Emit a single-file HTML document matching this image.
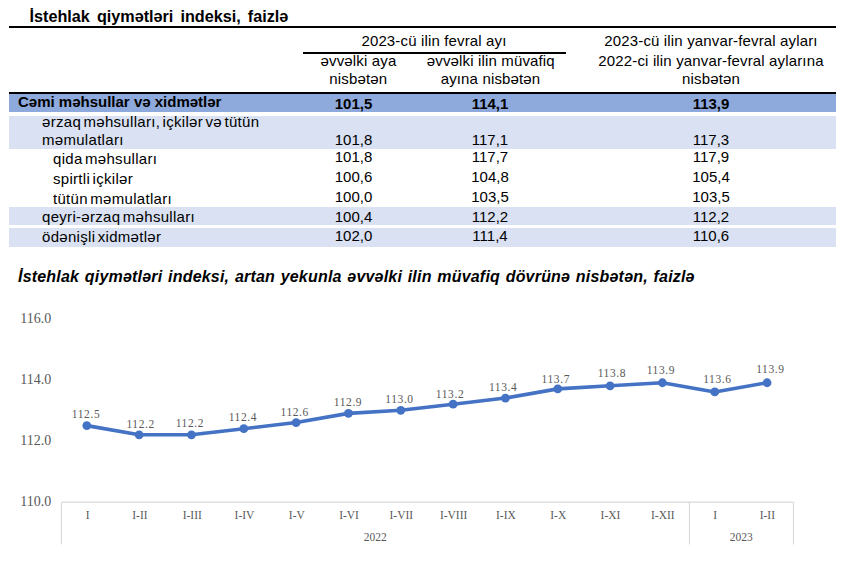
<!DOCTYPE html>
<html><head><meta charset="utf-8"><style>
html,body{margin:0;padding:0;background:#fff;width:846px;height:573px;overflow:hidden;position:relative}
</style></head><body>
<div style="position:absolute;left:29.5px;top:5.35px;height:22.68px;line-height:22.68px;font-family:'Liberation Sans', sans-serif;font-size:16.2px;font-weight:bold;font-style:normal;color:#000;white-space:pre;word-spacing:2.6px;">İstehlak qiymətləri indeksi, faizlə</div>
<div style="position:absolute;left:9px;top:26px;width:827px;height:2px;background:#000"></div>
<div style="position:absolute;left:134px;width:600px;text-align:center;top:29.80px;height:21.0px;line-height:21.0px;font-family:'Liberation Sans', sans-serif;font-size:15px;font-weight:normal;font-style:normal;color:#000;white-space:pre;letter-spacing:0.15px;">2023-cü ilin fevral ayı</div>
<div style="position:absolute;left:303px;top:52px;width:263px;height:2px;background:#000"></div>
<div style="position:absolute;left:411px;width:600px;text-align:center;top:29.80px;height:21.0px;line-height:21.0px;font-family:'Liberation Sans', sans-serif;font-size:15px;font-weight:normal;font-style:normal;color:#000;white-space:pre;letter-spacing:0.15px;">2023-cü ilin yanvar-fevral ayları</div>
<div style="position:absolute;left:58.5px;width:600px;text-align:center;top:50.30px;height:21.0px;line-height:21.0px;font-family:'Liberation Sans', sans-serif;font-size:15px;font-weight:normal;font-style:normal;color:#000;white-space:pre;letter-spacing:0.15px;">əvvəlki aya</div>
<div style="position:absolute;left:58.30000000000001px;width:600px;text-align:center;top:68.30px;height:21.0px;line-height:21.0px;font-family:'Liberation Sans', sans-serif;font-size:15px;font-weight:normal;font-style:normal;color:#000;white-space:pre;letter-spacing:0.15px;">nisbətən</div>
<div style="position:absolute;left:190.8px;width:600px;text-align:center;top:50.30px;height:21.0px;line-height:21.0px;font-family:'Liberation Sans', sans-serif;font-size:15px;font-weight:normal;font-style:normal;color:#000;white-space:pre;letter-spacing:0.15px;">əvvəlki ilin müvafiq</div>
<div style="position:absolute;left:190.5px;width:600px;text-align:center;top:68.30px;height:21.0px;line-height:21.0px;font-family:'Liberation Sans', sans-serif;font-size:15px;font-weight:normal;font-style:normal;color:#000;white-space:pre;letter-spacing:0.15px;">ayına nisbətən</div>
<div style="position:absolute;left:411px;width:600px;text-align:center;top:50.30px;height:21.0px;line-height:21.0px;font-family:'Liberation Sans', sans-serif;font-size:15px;font-weight:normal;font-style:normal;color:#000;white-space:pre;letter-spacing:0.15px;">2022-ci ilin yanvar-fevral aylarına</div>
<div style="position:absolute;left:411px;width:600px;text-align:center;top:68.30px;height:21.0px;line-height:21.0px;font-family:'Liberation Sans', sans-serif;font-size:15px;font-weight:normal;font-style:normal;color:#000;white-space:pre;letter-spacing:0.15px;">nisbətən</div>
<div style="position:absolute;left:9px;top:92px;width:827px;height:2px;background:#000"></div>
<div style="position:absolute;left:9px;top:94px;width:827px;height:18px;background:#8EA9DB"></div>
<div style="position:absolute;left:9px;top:116px;width:827px;height:33px;background:#D9E1F2"></div>
<div style="position:absolute;left:9px;top:207px;width:827px;height:18px;background:#D9E1F2"></div>
<div style="position:absolute;left:9px;top:228px;width:827px;height:19px;background:#D9E1F2"></div>
<div style="position:absolute;left:18px;top:91.30px;height:21.0px;line-height:21.0px;font-family:'Liberation Sans', sans-serif;font-size:15px;font-weight:bold;font-style:normal;color:#000;white-space:pre;">Cəmi məhsullar və xidmətlər</div>
<div style="position:absolute;left:53.5px;width:600px;text-align:center;top:93.30px;height:21.0px;line-height:21.0px;font-family:'Liberation Sans', sans-serif;font-size:15px;font-weight:bold;font-style:normal;color:#000;white-space:pre;">101,5</div>
<div style="position:absolute;left:190px;width:600px;text-align:center;top:93.30px;height:21.0px;line-height:21.0px;font-family:'Liberation Sans', sans-serif;font-size:15px;font-weight:bold;font-style:normal;color:#000;white-space:pre;">114,1</div>
<div style="position:absolute;left:411px;width:600px;text-align:center;top:93.30px;height:21.0px;line-height:21.0px;font-family:'Liberation Sans', sans-serif;font-size:15px;font-weight:bold;font-style:normal;color:#000;white-space:pre;">113,9</div>
<div style="position:absolute;left:42px;top:111.30px;height:21.0px;line-height:21.0px;font-family:'Liberation Sans', sans-serif;font-size:15px;font-weight:normal;font-style:normal;color:#000;white-space:pre;letter-spacing:0.3px;word-spacing:-2px;">ərzaq məhsulları, içkilər və tütün</div>
<div style="position:absolute;left:42px;top:129.30px;height:21.0px;line-height:21.0px;font-family:'Liberation Sans', sans-serif;font-size:15px;font-weight:normal;font-style:normal;color:#000;white-space:pre;letter-spacing:0.3px;word-spacing:-2px;">məmulatları</div>
<div style="position:absolute;left:53.5px;width:600px;text-align:center;top:129.30px;height:21.0px;line-height:21.0px;font-family:'Liberation Sans', sans-serif;font-size:15px;font-weight:normal;font-style:normal;color:#000;white-space:pre;">101,8</div>
<div style="position:absolute;left:190px;width:600px;text-align:center;top:129.30px;height:21.0px;line-height:21.0px;font-family:'Liberation Sans', sans-serif;font-size:15px;font-weight:normal;font-style:normal;color:#000;white-space:pre;">117,1</div>
<div style="position:absolute;left:411px;width:600px;text-align:center;top:129.30px;height:21.0px;line-height:21.0px;font-family:'Liberation Sans', sans-serif;font-size:15px;font-weight:normal;font-style:normal;color:#000;white-space:pre;">117,3</div>
<div style="position:absolute;left:53px;top:147.90px;height:21.0px;line-height:21.0px;font-family:'Liberation Sans', sans-serif;font-size:15px;font-weight:normal;font-style:normal;color:#000;white-space:pre;letter-spacing:0.3px;word-spacing:-2px;">qida məhsulları</div>
<div style="position:absolute;left:53.5px;width:600px;text-align:center;top:146.30px;height:21.0px;line-height:21.0px;font-family:'Liberation Sans', sans-serif;font-size:15px;font-weight:normal;font-style:normal;color:#000;white-space:pre;">101,8</div>
<div style="position:absolute;left:190px;width:600px;text-align:center;top:146.30px;height:21.0px;line-height:21.0px;font-family:'Liberation Sans', sans-serif;font-size:15px;font-weight:normal;font-style:normal;color:#000;white-space:pre;">117,7</div>
<div style="position:absolute;left:411px;width:600px;text-align:center;top:146.30px;height:21.0px;line-height:21.0px;font-family:'Liberation Sans', sans-serif;font-size:15px;font-weight:normal;font-style:normal;color:#000;white-space:pre;">117,9</div>
<div style="position:absolute;left:53px;top:167.90px;height:21.0px;line-height:21.0px;font-family:'Liberation Sans', sans-serif;font-size:15px;font-weight:normal;font-style:normal;color:#000;white-space:pre;letter-spacing:0.3px;word-spacing:-2px;">spirtli içkilər</div>
<div style="position:absolute;left:53.5px;width:600px;text-align:center;top:166.30px;height:21.0px;line-height:21.0px;font-family:'Liberation Sans', sans-serif;font-size:15px;font-weight:normal;font-style:normal;color:#000;white-space:pre;">100,6</div>
<div style="position:absolute;left:190px;width:600px;text-align:center;top:166.30px;height:21.0px;line-height:21.0px;font-family:'Liberation Sans', sans-serif;font-size:15px;font-weight:normal;font-style:normal;color:#000;white-space:pre;">104,8</div>
<div style="position:absolute;left:411px;width:600px;text-align:center;top:166.30px;height:21.0px;line-height:21.0px;font-family:'Liberation Sans', sans-serif;font-size:15px;font-weight:normal;font-style:normal;color:#000;white-space:pre;">105,4</div>
<div style="position:absolute;left:53px;top:187.90px;height:21.0px;line-height:21.0px;font-family:'Liberation Sans', sans-serif;font-size:15px;font-weight:normal;font-style:normal;color:#000;white-space:pre;letter-spacing:0.3px;word-spacing:-2px;">tütün məmulatları</div>
<div style="position:absolute;left:53.5px;width:600px;text-align:center;top:186.30px;height:21.0px;line-height:21.0px;font-family:'Liberation Sans', sans-serif;font-size:15px;font-weight:normal;font-style:normal;color:#000;white-space:pre;">100,0</div>
<div style="position:absolute;left:190px;width:600px;text-align:center;top:186.30px;height:21.0px;line-height:21.0px;font-family:'Liberation Sans', sans-serif;font-size:15px;font-weight:normal;font-style:normal;color:#000;white-space:pre;">103,5</div>
<div style="position:absolute;left:411px;width:600px;text-align:center;top:186.30px;height:21.0px;line-height:21.0px;font-family:'Liberation Sans', sans-serif;font-size:15px;font-weight:normal;font-style:normal;color:#000;white-space:pre;">103,5</div>
<div style="position:absolute;left:42px;top:206.30px;height:21.0px;line-height:21.0px;font-family:'Liberation Sans', sans-serif;font-size:15px;font-weight:normal;font-style:normal;color:#000;white-space:pre;letter-spacing:0.3px;word-spacing:-2px;">qeyri-ərzaq məhsulları</div>
<div style="position:absolute;left:53.5px;width:600px;text-align:center;top:205.80px;height:21.0px;line-height:21.0px;font-family:'Liberation Sans', sans-serif;font-size:15px;font-weight:normal;font-style:normal;color:#000;white-space:pre;">100,4</div>
<div style="position:absolute;left:190px;width:600px;text-align:center;top:205.80px;height:21.0px;line-height:21.0px;font-family:'Liberation Sans', sans-serif;font-size:15px;font-weight:normal;font-style:normal;color:#000;white-space:pre;">112,2</div>
<div style="position:absolute;left:411px;width:600px;text-align:center;top:205.80px;height:21.0px;line-height:21.0px;font-family:'Liberation Sans', sans-serif;font-size:15px;font-weight:normal;font-style:normal;color:#000;white-space:pre;">112,2</div>
<div style="position:absolute;left:42px;top:225.50px;height:21.0px;line-height:21.0px;font-family:'Liberation Sans', sans-serif;font-size:15px;font-weight:normal;font-style:normal;color:#000;white-space:pre;letter-spacing:0.3px;word-spacing:-2px;">ödənişli xidmətlər</div>
<div style="position:absolute;left:53.5px;width:600px;text-align:center;top:224.80px;height:21.0px;line-height:21.0px;font-family:'Liberation Sans', sans-serif;font-size:15px;font-weight:normal;font-style:normal;color:#000;white-space:pre;">102,0</div>
<div style="position:absolute;left:190px;width:600px;text-align:center;top:224.80px;height:21.0px;line-height:21.0px;font-family:'Liberation Sans', sans-serif;font-size:15px;font-weight:normal;font-style:normal;color:#000;white-space:pre;">111,4</div>
<div style="position:absolute;left:411px;width:600px;text-align:center;top:224.80px;height:21.0px;line-height:21.0px;font-family:'Liberation Sans', sans-serif;font-size:15px;font-weight:normal;font-style:normal;color:#000;white-space:pre;">110,6</div>
<div style="position:absolute;left:18px;top:266.26px;height:22.4px;line-height:22.4px;font-family:'Liberation Sans', sans-serif;font-size:16px;font-weight:bold;font-style:italic;color:#000;white-space:pre;letter-spacing:0.2px;word-spacing:1.0px;">İstehlak qiymətləri indeksi, artan yekunla əvvəlki ilin müvafiq dövrünə nisbətən, faizlə</div>
<div style="position:absolute;left:-548.8px;width:600px;text-align:right;top:308.69px;height:19.6px;line-height:19.6px;font-family:'Liberation Serif', serif;font-size:14px;font-weight:normal;font-style:normal;color:#595959;white-space:pre;">116.0</div>
<div style="position:absolute;left:-548.8px;width:600px;text-align:right;top:369.95px;height:19.6px;line-height:19.6px;font-family:'Liberation Serif', serif;font-size:14px;font-weight:normal;font-style:normal;color:#595959;white-space:pre;">114.0</div>
<div style="position:absolute;left:-548.8px;width:600px;text-align:right;top:431.21px;height:19.6px;line-height:19.6px;font-family:'Liberation Serif', serif;font-size:14px;font-weight:normal;font-style:normal;color:#595959;white-space:pre;">112.0</div>
<div style="position:absolute;left:-548.8px;width:600px;text-align:right;top:492.47px;height:19.6px;line-height:19.6px;font-family:'Liberation Serif', serif;font-size:14px;font-weight:normal;font-style:normal;color:#595959;white-space:pre;">110.0</div>
<svg style="position:absolute;left:0;top:0" width="846" height="573"><line x1="61.5" y1="502.2" x2="793.5" y2="502.2" stroke="#D9D9D9" stroke-width="1.2"/><line x1="61.5" y1="502.2" x2="61.5" y2="544.5" stroke="#D9D9D9" stroke-width="1.2"/><line x1="689.5" y1="502.2" x2="689.5" y2="544.5" stroke="#D9D9D9" stroke-width="1.2"/><line x1="793.5" y1="502.2" x2="793.5" y2="544.5" stroke="#D9D9D9" stroke-width="1.2"/><polyline fill="none" stroke="#4472C4" stroke-width="3.6" stroke-linejoin="round" points="86.80,425.62 139.13,434.81 191.46,434.81 243.79,428.69 296.12,422.56 348.45,413.37 400.78,410.31 453.11,404.18 505.44,398.06 557.77,388.87 610.10,385.81 662.43,382.74 714.76,391.93 767.09,382.74"/><circle cx="86.80" cy="425.62" r="4.4" fill="#4472C4"/><circle cx="139.13" cy="434.81" r="4.4" fill="#4472C4"/><circle cx="191.46" cy="434.81" r="4.4" fill="#4472C4"/><circle cx="243.79" cy="428.69" r="4.4" fill="#4472C4"/><circle cx="296.12" cy="422.56" r="4.4" fill="#4472C4"/><circle cx="348.45" cy="413.37" r="4.4" fill="#4472C4"/><circle cx="400.78" cy="410.31" r="4.4" fill="#4472C4"/><circle cx="453.11" cy="404.18" r="4.4" fill="#4472C4"/><circle cx="505.44" cy="398.06" r="4.4" fill="#4472C4"/><circle cx="557.77" cy="388.87" r="4.4" fill="#4472C4"/><circle cx="610.10" cy="385.81" r="4.4" fill="#4472C4"/><circle cx="662.43" cy="382.74" r="4.4" fill="#4472C4"/><circle cx="714.76" cy="391.93" r="4.4" fill="#4472C4"/><circle cx="767.09" cy="382.74" r="4.4" fill="#4472C4"/></svg>
<div style="position:absolute;left:-213.95px;width:600px;text-align:center;top:406.07px;height:16.1px;line-height:16.1px;font-family:'Liberation Serif', serif;font-size:11.5px;font-weight:normal;font-style:normal;color:#595959;white-space:pre;letter-spacing:0.6px;">112.5</div>
<div style="position:absolute;left:-212.35714285714286px;width:600px;text-align:center;top:507.37px;height:16.1px;line-height:16.1px;font-family:'Liberation Serif', serif;font-size:11.5px;font-weight:normal;font-style:normal;color:#595959;white-space:pre;">I</div>
<div style="position:absolute;left:-159.35px;width:600px;text-align:center;top:416.17px;height:16.1px;line-height:16.1px;font-family:'Liberation Serif', serif;font-size:11.5px;font-weight:normal;font-style:normal;color:#595959;white-space:pre;letter-spacing:0.6px;">112.2</div>
<div style="position:absolute;left:-160.07142857142856px;width:600px;text-align:center;top:507.37px;height:16.1px;line-height:16.1px;font-family:'Liberation Serif', serif;font-size:11.5px;font-weight:normal;font-style:normal;color:#595959;white-space:pre;">I-II</div>
<div style="position:absolute;left:-110.14999999999998px;width:600px;text-align:center;top:415.07px;height:16.1px;line-height:16.1px;font-family:'Liberation Serif', serif;font-size:11.5px;font-weight:normal;font-style:normal;color:#595959;white-space:pre;letter-spacing:0.6px;">112.2</div>
<div style="position:absolute;left:-107.78571428571428px;width:600px;text-align:center;top:507.37px;height:16.1px;line-height:16.1px;font-family:'Liberation Serif', serif;font-size:11.5px;font-weight:normal;font-style:normal;color:#595959;white-space:pre;">I-III</div>
<div style="position:absolute;left:-57.14999999999998px;width:600px;text-align:center;top:409.07px;height:16.1px;line-height:16.1px;font-family:'Liberation Serif', serif;font-size:11.5px;font-weight:normal;font-style:normal;color:#595959;white-space:pre;letter-spacing:0.6px;">112.4</div>
<div style="position:absolute;left:-55.5px;width:600px;text-align:center;top:507.37px;height:16.1px;line-height:16.1px;font-family:'Liberation Serif', serif;font-size:11.5px;font-weight:normal;font-style:normal;color:#595959;white-space:pre;">I-IV</div>
<div style="position:absolute;left:-5.300000000000011px;width:600px;text-align:center;top:404.07px;height:16.1px;line-height:16.1px;font-family:'Liberation Serif', serif;font-size:11.5px;font-weight:normal;font-style:normal;color:#595959;white-space:pre;letter-spacing:0.6px;">112.6</div>
<div style="position:absolute;left:-3.2142857142857224px;width:600px;text-align:center;top:507.37px;height:16.1px;line-height:16.1px;font-family:'Liberation Serif', serif;font-size:11.5px;font-weight:normal;font-style:normal;color:#595959;white-space:pre;">I-V</div>
<div style="position:absolute;left:48.0px;width:600px;text-align:center;top:394.37px;height:16.1px;line-height:16.1px;font-family:'Liberation Serif', serif;font-size:11.5px;font-weight:normal;font-style:normal;color:#595959;white-space:pre;letter-spacing:0.6px;">112.9</div>
<div style="position:absolute;left:49.071428571428555px;width:600px;text-align:center;top:507.37px;height:16.1px;line-height:16.1px;font-family:'Liberation Serif', serif;font-size:11.5px;font-weight:normal;font-style:normal;color:#595959;white-space:pre;">I-VI</div>
<div style="position:absolute;left:99.5px;width:600px;text-align:center;top:390.77px;height:16.1px;line-height:16.1px;font-family:'Liberation Serif', serif;font-size:11.5px;font-weight:normal;font-style:normal;color:#595959;white-space:pre;letter-spacing:0.6px;">113.0</div>
<div style="position:absolute;left:101.35714285714283px;width:600px;text-align:center;top:507.37px;height:16.1px;line-height:16.1px;font-family:'Liberation Serif', serif;font-size:11.5px;font-weight:normal;font-style:normal;color:#595959;white-space:pre;">I-VII</div>
<div style="position:absolute;left:150.05px;width:600px;text-align:center;top:386.07px;height:16.1px;line-height:16.1px;font-family:'Liberation Serif', serif;font-size:11.5px;font-weight:normal;font-style:normal;color:#595959;white-space:pre;letter-spacing:0.6px;">113.2</div>
<div style="position:absolute;left:153.6428571428571px;width:600px;text-align:center;top:507.37px;height:16.1px;line-height:16.1px;font-family:'Liberation Serif', serif;font-size:11.5px;font-weight:normal;font-style:normal;color:#595959;white-space:pre;">I-VIII</div>
<div style="position:absolute;left:203.15000000000003px;width:600px;text-align:center;top:379.07px;height:16.1px;line-height:16.1px;font-family:'Liberation Serif', serif;font-size:11.5px;font-weight:normal;font-style:normal;color:#595959;white-space:pre;letter-spacing:0.6px;">113.4</div>
<div style="position:absolute;left:205.92857142857144px;width:600px;text-align:center;top:507.37px;height:16.1px;line-height:16.1px;font-family:'Liberation Serif', serif;font-size:11.5px;font-weight:normal;font-style:normal;color:#595959;white-space:pre;">I-IX</div>
<div style="position:absolute;left:255.79999999999995px;width:600px;text-align:center;top:371.07px;height:16.1px;line-height:16.1px;font-family:'Liberation Serif', serif;font-size:11.5px;font-weight:normal;font-style:normal;color:#595959;white-space:pre;letter-spacing:0.6px;">113.7</div>
<div style="position:absolute;left:258.2142857142858px;width:600px;text-align:center;top:507.37px;height:16.1px;line-height:16.1px;font-family:'Liberation Serif', serif;font-size:11.5px;font-weight:normal;font-style:normal;color:#595959;white-space:pre;">I-X</div>
<div style="position:absolute;left:311.9px;width:600px;text-align:center;top:365.17px;height:16.1px;line-height:16.1px;font-family:'Liberation Serif', serif;font-size:11.5px;font-weight:normal;font-style:normal;color:#595959;white-space:pre;letter-spacing:0.6px;">113.8</div>
<div style="position:absolute;left:310.5px;width:600px;text-align:center;top:507.37px;height:16.1px;line-height:16.1px;font-family:'Liberation Serif', serif;font-size:11.5px;font-weight:normal;font-style:normal;color:#595959;white-space:pre;">I-XI</div>
<div style="position:absolute;left:360.9px;width:600px;text-align:center;top:362.27px;height:16.1px;line-height:16.1px;font-family:'Liberation Serif', serif;font-size:11.5px;font-weight:normal;font-style:normal;color:#595959;white-space:pre;letter-spacing:0.6px;">113.9</div>
<div style="position:absolute;left:362.7857142857142px;width:600px;text-align:center;top:507.37px;height:16.1px;line-height:16.1px;font-family:'Liberation Serif', serif;font-size:11.5px;font-weight:normal;font-style:normal;color:#595959;white-space:pre;">I-XII</div>
<div style="position:absolute;left:417.4px;width:600px;text-align:center;top:370.77px;height:16.1px;line-height:16.1px;font-family:'Liberation Serif', serif;font-size:11.5px;font-weight:normal;font-style:normal;color:#595959;white-space:pre;letter-spacing:0.6px;">113.6</div>
<div style="position:absolute;left:415.07142857142856px;width:600px;text-align:center;top:507.37px;height:16.1px;line-height:16.1px;font-family:'Liberation Serif', serif;font-size:11.5px;font-weight:normal;font-style:normal;color:#595959;white-space:pre;">I</div>
<div style="position:absolute;left:470.4px;width:600px;text-align:center;top:360.87px;height:16.1px;line-height:16.1px;font-family:'Liberation Serif', serif;font-size:11.5px;font-weight:normal;font-style:normal;color:#595959;white-space:pre;letter-spacing:0.6px;">113.9</div>
<div style="position:absolute;left:467.3571428571429px;width:600px;text-align:center;top:507.37px;height:16.1px;line-height:16.1px;font-family:'Liberation Serif', serif;font-size:11.5px;font-weight:normal;font-style:normal;color:#595959;white-space:pre;">I-II</div>
<div style="position:absolute;left:75.21428571428572px;width:600px;text-align:center;top:529.27px;height:16.1px;line-height:16.1px;font-family:'Liberation Serif', serif;font-size:11.5px;font-weight:normal;font-style:normal;color:#595959;white-space:pre;">2022</div>
<div style="position:absolute;left:441.21428571428567px;width:600px;text-align:center;top:529.27px;height:16.1px;line-height:16.1px;font-family:'Liberation Serif', serif;font-size:11.5px;font-weight:normal;font-style:normal;color:#595959;white-space:pre;">2023</div>
</body></html>
